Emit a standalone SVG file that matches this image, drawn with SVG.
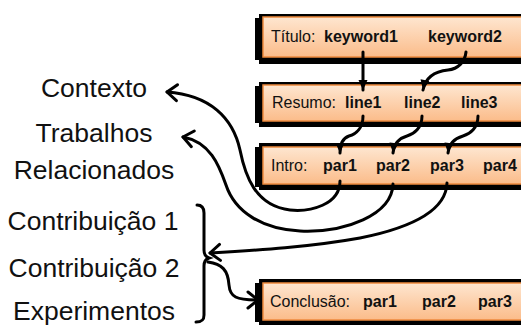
<svg xmlns="http://www.w3.org/2000/svg" width="521" height="327" viewBox="0 0 521 327">
<defs>
<linearGradient id="og" x1="0" y1="0" x2="0" y2="1">
<stop offset="0" stop-color="#fee6d0"/>
<stop offset="1" stop-color="#fbbc8a"/>
</linearGradient>
<marker id="fa" markerUnits="userSpaceOnUse" markerWidth="14" markerHeight="12" viewBox="0 0 14 12" refX="11" refY="6" orient="auto">
<path d="M1,1.5 L11,6 L1,10.5 z" fill="#000"/>
</marker>
<marker id="va" markerUnits="userSpaceOnUse" markerWidth="16" markerHeight="20" viewBox="0 0 16 20" refX="13" refY="10" orient="auto">
<path d="M3,2 L13,10 L3,18" fill="none" stroke="#000" stroke-width="3" stroke-linecap="round" stroke-linejoin="round"/>
</marker>
</defs>
<style>
.bk{fill:#000}
.bx{fill:url(#og);stroke:#ee8a3e;stroke-width:1.5}
.t{font-family:"Liberation Sans",Arial,sans-serif;font-size:16px;fill:#111}
.b{font-weight:bold}
.lbl{font-family:"Liberation Sans",Arial,sans-serif;font-size:26.5px;fill:#111;text-anchor:middle}
.c{fill:none;stroke:#000;stroke-width:3;stroke-linecap:round}
</style>

<g id="titulo">
<rect class="bk" x="259" y="14" width="270" height="50"/>
<rect class="bk" x="255" y="18" width="8" height="42"/>
<rect class="bx" x="263" y="17" width="265" height="40"/>
<text class="t" x="271" y="42">Título:</text>
<text class="t b" x="324" y="42">keyword1</text>
<text class="t b" x="428" y="42">keyword2</text>
</g>

<g id="resumo">
<rect class="bk" x="259" y="82" width="270" height="45"/>
<rect class="bk" x="255" y="86" width="8" height="37"/>
<rect class="bx" x="263" y="85" width="265" height="36"/>
<text class="t" x="272" y="108">Resumo:</text>
<text class="t b" x="345" y="108">line1</text>
<text class="t b" x="404" y="108">line2</text>
<text class="t b" x="461" y="108">line3</text>
</g>

<g id="intro">
<rect class="bk" x="259" y="143" width="270" height="47"/>
<rect class="bk" x="255" y="147" width="8" height="40"/>
<rect class="bx" x="263" y="147" width="265" height="37"/>
<text class="t" x="271" y="171">Intro:</text>
<text class="t b" x="323" y="171">par1</text>
<text class="t b" x="376" y="171">par2</text>
<text class="t b" x="430" y="171">par3</text>
<text class="t b" x="483" y="171">par4</text>
</g>

<g id="conclusao">
<rect class="bk" x="259" y="279" width="270" height="46"/>
<rect class="bk" x="255" y="283" width="8" height="39"/>
<rect class="bx" x="263" y="283" width="265" height="37"/>
<text class="t" x="270" y="307">Conclusão:</text>
<text class="t b" x="363" y="307">par1</text>
<text class="t b" x="422" y="307">par2</text>
<text class="t b" x="478" y="307">par3</text>
</g>

<g id="labels">
<text class="lbl" x="94" y="97">Contexto</text>
<text class="lbl" x="94" y="142">Trabalhos</text>
<text class="lbl" x="94" y="179">Relacionados</text>
<text class="lbl" x="93" y="230">Contribuição 1</text>
<text class="lbl" x="94" y="277">Contribuição 2</text>
<text class="lbl" x="94" y="320">Experimentos</text>
</g>

<g id="brace">
<path class="c" d="M197,205 C202,205 204,208 204,213 L204,250 C204,255 206,257 209,258 C206,259 204,261 204,266 L204,315 C204,320 202,322 196,322"/>
</g>

<g id="connectors">
<path class="c" d="M363,52 L363,90" marker-end="url(#fa)"/>
<path class="c" d="M466,52 C465,62 458,69 448,70 C438,71 426,75 423,90" marker-end="url(#fa)"/>
<path class="c" d="M363,116 C363,128 356,134 349,136 C343,138 340,143 340,153" marker-end="url(#fa)"/>
<path class="c" d="M422,116 C422,128 414,134 407,136 C400,138 394,143 393,153" marker-end="url(#fa)"/>
<path class="c" d="M478,116 C478,128 470,134 463,136 C456,138 449,143 448,153" marker-end="url(#fa)"/>
<path class="c" d="M340,181 C340,205 310,212 290,210 C255,206 245,175 240,150 C233,118 210,95 167,92" marker-end="url(#va)"/>
<path class="c" d="M393,184 C392,215 345,233 300,231 C262,229 235,212 226,185 C219,165 210,142 183,137" marker-end="url(#va)"/>
<path class="c" d="M447,183 C446,215 400,230 360,238 C310,247 260,250 210,253" marker-end="url(#va)"/>
<path class="c" d="M208,262 C222,264 228,270 229,285 C230,297 236,300 258,300" marker-end="url(#va)"/>
</g>
</svg>
